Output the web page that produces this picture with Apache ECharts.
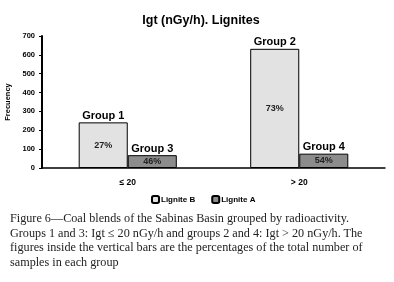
<!DOCTYPE html>
<html>
<head>
<meta charset="utf-8">
<script src="https://cdn.jsdelivr.net/npm/echarts@6/dist/echarts.min.js"></script>
<style>
  html, body { margin: 0; padding: 0; background: #fff; }
  #chart { width: 394px; height: 282px; position: absolute; left: 0; top: 0; }
  .caption {
    position: absolute; left: 10px; top: 211px; width: 384px; white-space: nowrap;
    font-family: "Liberation Serif", serif; font-size: 12.2px; line-height: 14.5px; color: #222;
  }
</style>
</head>
<body>
<div id="chart"></div>
<div class="caption">Figure 6—Coal blends of the Sabinas Basin grouped by radioactivity.<br>Groups 1 and 3: Igt ≤ 20 nGy/h and groups 2 and 4: Igt &gt; 20 nGy/h. The<br>figures inside the vertical bars are the percentages of the total number of<br>samples in each group</div>
<script>
// 数据
const categories = ['≤ 20', '> 20'];
const yTicks = [0, 100, 200, 300, 400, 500, 600, 700];
const ligniteB = [242, 632];
const ligniteA = [68, 76];
const groupsB = ['Group 1', 'Group 2'];
const groupsA = ['Group 3', 'Group 4'];
const pctB = ['27%', '73%'];
const pctA = ['46%', '54%'];

const chart = echarts.init(document.getElementById('chart'));

const bold = { fontFamily: 'Liberation Sans', fontWeight: 'bold', color: '#000' };

function makeSeries(name, values, groups, pcts, color) {
  return {
    name: name,
    type: 'bar',
    barWidth: '28.6%',
    barGap: '0%',
    itemStyle: { color: color, borderColor: '#000', borderWidth: 1 },
    label: {
      show: true,
      position: 'inside',
      formatter: p => pcts[p.dataIndex],
      ...bold,
      fontSize: 9,
      color: '#222'
    },
    markPoint: {
      symbol: 'rect',
      symbolSize: 0,
      label: {
        show: true,
        position: 'top',
        distance: 1,
        formatter: p => p.name,
        ...bold,
        fontSize: 11
      },
      data: values.map((v, i) => ({ name: groups[i], coord: [i, v] }))
    },
    data: values
  };
}

chart.setOption({
  animation: false,
  title: {
    text: 'Igt (nGy/h). Lignites',
    left: 196,
    textAlign: 'center',
    top: 9,
    textStyle: { ...bold, fontSize: 12.5 }
  },
  legend: {
    data: ['Lignite B', 'Lignite A'],
    left: 146,
    top: 190,
    itemWidth: 7,
    itemHeight: 7,
    itemGap: 16,
    textStyle: { ...bold, fontSize: 8, padding: [0, 0, 0, -3] }
  },
  grid: { left: 42, right: 9, top: 36, bottom: 114, outerBoundsMode: 'none', containLabel: false },
  xAxis: {
    type: 'category',
    data: categories,
    axisLine: { lineStyle: { color: '#000', width: 1.5 } },
    axisTick: { lineStyle: { color: '#000' }, length: 3 },
    axisLabel: { ...bold, fontSize: 8.5, margin: 10 }
  },
  yAxis: {
    type: 'value',
    min: yTicks[0],
    max: yTicks[yTicks.length - 1],
    interval: 100,
    name: 'Frecuency',
    nameLocation: 'middle',
    nameGap: 25,
    nameTextStyle: { ...bold, fontSize: 7.5 },
    axisLine: { show: true, lineStyle: { color: '#000', width: 2 } },
    axisTick: { show: true, length: 3, lineStyle: { color: '#000' } },
    splitLine: { show: false },
    axisLabel: { ...bold, fontSize: 7.5, margin: 7 }
  },
  series: [
    makeSeries('Lignite B', ligniteB, groupsB, pctB, '#e2e2e2'),
    makeSeries('Lignite A', ligniteA, groupsA, pctA, '#8c8c8c')
  ]
});
</script>
</body>
</html>
